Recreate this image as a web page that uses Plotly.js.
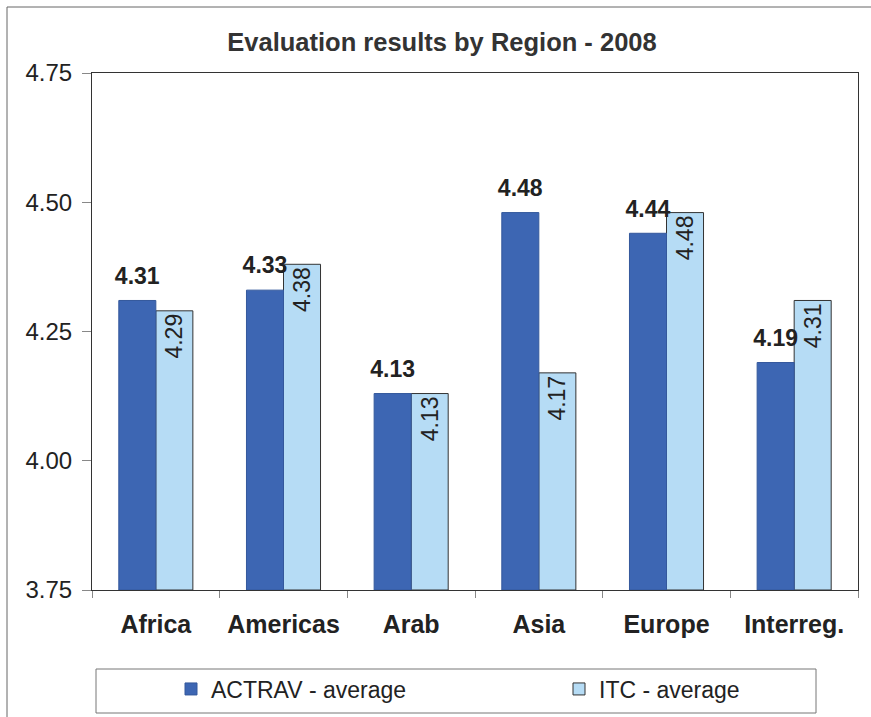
<!DOCTYPE html>
<html>
<head>
<meta charset="utf-8">
<script src="https://cdn.plot.ly/plotly-3.0.1.min.js"></script>
<style>
html,body{margin:0;padding:0;background:#fff;}
#chart{width:871px;height:717px;}
</style>
</head>
<body>
<div id="chart"></div>
<script>
const categories = ["Africa", "Americas", "Arab", "Asia", "Europe", "Interreg."];
const actravValues = [4.31, 4.33, 4.13, 4.48, 4.44, 4.19];
const itcValues = [4.29, 4.38, 4.13, 4.17, 4.48, 4.31];
const actravLabels = ["4.31", "4.33", "4.13", "4.48", "4.44", "4.19"];
const itcLabels = ["4.29", "4.38", "4.13", "4.17", "4.48", "4.31"];
const yTicks = [3.75, 4.00, 4.25, 4.50, 4.75];
const yTickText = ["3.75", "4.00", "4.25", "4.50", "4.75"];
const baseValue = 3.75;

const L = 92, R = 858, T = 73, B = 590;
const W = 871, H = 717;
const px2x = p => (p - L) / (R - L);
const py2y = p => (B - p) / (B - T);
const FONT = "Liberation Sans, Arial, sans-serif";
const BW = 0.29;

// ITC drawn first so ACTRAV labels render on top of neighbouring ITC bars
const traces = [
  {
    type: "bar", name: "ITC - average", legend: "legend2",
    x: categories, y: itcValues.map(v => v - baseValue), base: baseValue,
    width: BW, offset: 0,
    text: itcLabels, textposition: "inside", insidetextanchor: "end", textangle: -90, constraintext: "none",
    textfont: {family: FONT, size: 23, color: "#222"},
    marker: {color: "#b6dcf5", line: {color: "#333", width: 1}},
    hoverinfo: "skip"
  },
  {
    type: "bar", name: "ACTRAV - average", legend: "legend",
    x: categories, y: actravValues.map(v => v - baseValue), base: baseValue,
    width: BW, offset: -BW,
    text: actravLabels, textposition: "outside", constraintext: "none", cliponaxis: false,
    textfont: {family: FONT, size: 9, color: "#222"},
    texttemplate: "<span style='font-size:23px'><b>%{text}</b></span><br>\u00a0",
    marker: {color: "#3d66b3", line: {color: "#34589c", width: 1}},
    hoverinfo: "skip"
  }
];

const layout = {
  width: W, height: H,
  margin: {l: L, r: W - R, t: T, b: H - B, autoexpand: false},
  paper_bgcolor: "#fff", plot_bgcolor: "#fff",
  font: {family: FONT, color: "#222"},
  title: {text: "<b>Evaluation results by Region - 2008</b>", font: {size: 25.5, color: "#333"},
          xref: "container", x: 442 / W, xanchor: "center", y: 1 - 42 / H, yanchor: "middle"},
  barmode: "overlay",
  xaxis: {
    type: "category", showline: true, linecolor: "#333", linewidth: 1, mirror: true,
    ticks: "outside", tickson: "boundaries", ticklen: 7, tickcolor: "#888",
    tickfont: {size: 25, color: "#222", family: FONT},
    tickvals: categories, ticktext: categories.map(c => "<b>" + c + "</b>"),
    ticklabelstandoff: 12, showgrid: false, fixedrange: true
  },
  yaxis: {
    range: [3.75, 4.75], showline: true, linecolor: "#333", linewidth: 1, mirror: true,
    tickmode: "array", tickvals: yTicks, ticktext: yTickText,
    ticks: "outside", ticklen: 9, tickcolor: "#888", ticklabelstandoff: 5,
    tickfont: {size: 24, color: "#222"}, showgrid: false, zeroline: false, fixedrange: true
  },
  showlegend: true,
  legend: {
    x: px2x(171), xanchor: "left", y: py2y(689), yanchor: "middle",
    font: {size: 23, color: "#222"}, bgcolor: "rgba(0,0,0,0)", borderwidth: 0
  },
  legend2: {
    x: px2x(559), xanchor: "left", y: py2y(689), yanchor: "middle",
    font: {size: 23, color: "#222"}, bgcolor: "rgba(0,0,0,0)", borderwidth: 0
  },
  shapes: [
    {type: "rect", xref: "paper", yref: "paper", x0: px2x(96), x1: px2x(816), y0: py2y(713), y1: py2y(669),
     line: {color: "#777", width: 1}, fillcolor: "rgba(0,0,0,0)", layer: "below"},
    {type: "line", xref: "paper", yref: "paper", x0: px2x(7), x1: px2x(7), y0: py2y(717), y1: py2y(7),
     line: {color: "#666", width: 1}, layer: "below"},
    {type: "line", xref: "paper", yref: "paper", x0: px2x(7), x1: px2x(871), y0: py2y(7), y1: py2y(7),
     line: {color: "#666", width: 1}, layer: "below"}
  ]
};

Plotly.newPlot("chart", traces, layout, {staticPlot: true, displayModeBar: false});
</script>
</body>
</html>
